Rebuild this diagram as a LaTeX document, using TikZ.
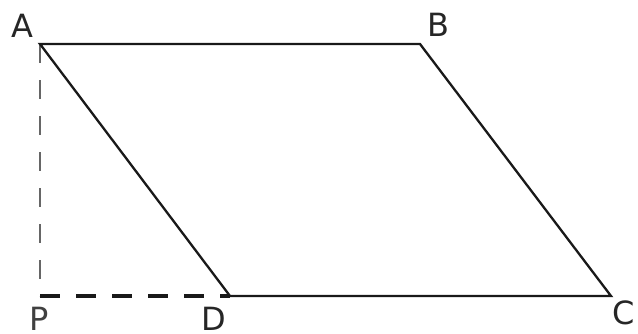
\documentclass[tikz,border=0pt]{standalone}
\usepackage{fontspec}
\setmainfont{DejaVu Sans}
\begin{document}
\begin{tikzpicture}[x=1pt,y=-1pt,
  edge/.style={line width=2.3pt,black!90,line join=miter},
  lbl/.style={font=\fontsize{32}{35}\selectfont,inner sep=0pt,text=black!85},
  thindash/.style={line width=1.6pt,black!60,dash pattern=on 19pt off 17pt},
  thickdash/.style={line width=4pt,black!90,dash pattern=on 20pt off 16pt}]
\useasboundingbox (0,0) rectangle (638,333);
\coordinate (A) at (40,44);
\coordinate (B) at (420,44);
\coordinate (C) at (611,296);
\coordinate (D) at (230,296);
\coordinate (P) at (40,296);
\draw[thindash] (A) -- (P);
\draw[thickdash] (P) -- (D);
\draw[edge] (A) -- (B) -- (C) -- (D) -- cycle;
\node[lbl] (lA) at (22,26) {A};
\node[lbl] (lB) at (438,25) {B};
\node[lbl] (lC) at (624,313) {C};
\node[lbl] (lD) at (214,319) {D};
\node[lbl,text=black!75] (lP) at (39,319) {P};
\end{tikzpicture}
\end{document}
